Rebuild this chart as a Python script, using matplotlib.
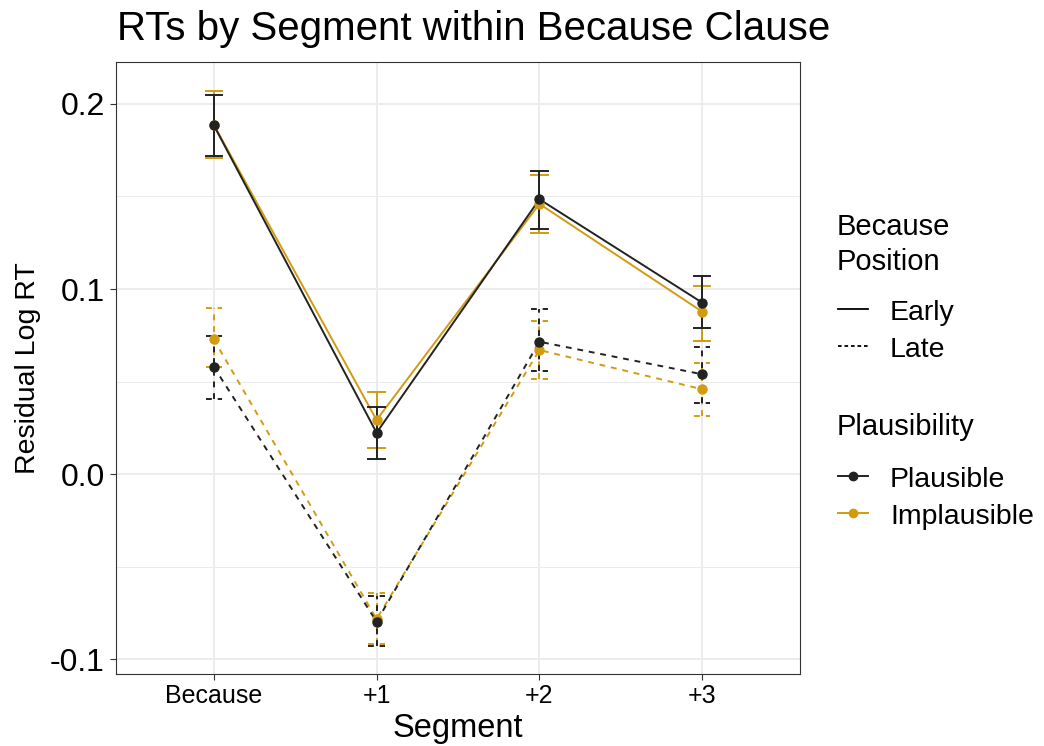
import matplotlib
matplotlib.use("Agg")
import matplotlib.pyplot as plt
from matplotlib.lines import Line2D
import numpy as np

plt.rcParams['font.family'] = ['Liberation Sans', 'DejaVu Sans']

# Segment categories and condition labels
segments = ["Because", "+1", "+2", "+3"]
positions = ["Early", "Late"]
plausibility = ["Plausible", "Implausible"]

# Mean residual log RT per segment, with error bar limits
early_plausible = [0.1886, 0.0223, 0.1485, 0.0926]
early_plausible_lo = [0.1719, 0.0081, 0.1323, 0.0787]
early_plausible_hi = [0.2049, 0.0364, 0.1640, 0.1070]

early_implausible = [0.1889, 0.0292, 0.1460, 0.0877]
early_implausible_lo = [0.1710, 0.0142, 0.1304, 0.0720]
early_implausible_hi = [0.2070, 0.0445, 0.1616, 0.1016]

late_plausible = [0.0580, -0.0798, 0.0715, 0.0539]
late_plausible_lo = [0.0405, -0.0930, 0.0557, 0.0382]
late_plausible_hi = [0.0746, -0.0660, 0.0890, 0.0685]

late_implausible = [0.0728, -0.0784, 0.0670, 0.0458]
late_implausible_lo = [0.0577, -0.0920, 0.0514, 0.0314]
late_implausible_hi = [0.0896, -0.0645, 0.0827, 0.0598]

colors = {"Plausible": "#222222", "Implausible": "#D19C11"}
dash_styles = {"Early": "-", "Late": (0, (3, 3))}

# Implausible drawn first so plausible marks sit on top
series = [
    ("Early", "Implausible", early_implausible, early_implausible_lo, early_implausible_hi),
    ("Late", "Implausible", late_implausible, late_implausible_lo, late_implausible_hi),
    ("Early", "Plausible", early_plausible, early_plausible_lo, early_plausible_hi),
    ("Late", "Plausible", late_plausible, late_plausible_lo, late_plausible_hi),
]

W, H = 1044, 746
fig = plt.figure(figsize=(W / 100, H / 100), dpi=100)
ax = fig.add_axes([116 / W, 1 - 674 / H, (800 - 116) / W, (674 - 62) / H])

x = np.arange(1, len(segments) + 1)
lw = 1.4
cap = 0.05

for pos, pl, m, lo, hi in series:
    ax.plot(x, m, color=colors[pl], lw=lw, linestyle=dash_styles[pos], zorder=3)
for pos, pl, m, lo, hi in series:
    c = colors[pl]
    ls = dash_styles[pos]
    for xi, l, h in zip(x, lo, hi):
        ax.plot([xi, xi], [l, h], color=c, lw=lw, linestyle=ls, zorder=4)
        ax.plot([xi - cap, xi + cap], [l, l], color=c, lw=lw, linestyle=ls, zorder=4)
        ax.plot([xi - cap, xi + cap], [h, h], color=c, lw=lw, linestyle=ls, zorder=4)
for pos, pl, m, lo, hi in series:
    ax.plot(x, m, linestyle="none", marker="o", ms=6.5, color=colors[pl], zorder=5)

ax.set_xlim(0.4, 4.6)
ax.set_ylim(-0.1081, 0.2227)
ax.set_xticks(x)
ax.set_xticklabels(segments, fontsize=18)
yt = [-0.1, 0.0, 0.1, 0.2]
ax.set_yticks(yt)
ax.set_yticklabels(["-0.1", "0.0", "0.1", "0.2"], fontsize=23)
ax.set_yticks([-0.05, 0.05, 0.15], minor=True)
ax.grid(True, which="major", color="#EBEBEB", lw=1.3, zorder=0)
ax.grid(True, which="minor", axis="y", color="#EBEBEB", lw=0.7, zorder=0)
ax.set_axisbelow(True)
for s in ax.spines.values():
    s.set_color("#333333")
    s.set_linewidth(0.8)
ax.tick_params(axis="both", which="major", length=4, width=0.8, color="#333333",
               labelcolor="black")
ax.tick_params(axis="y", which="major", pad=4)
ax.tick_params(axis="x", which="major", pad=3)
ax.tick_params(axis="y", which="minor", length=0)

fig.text(458 / W, 1 - 737 / H, "Segment", fontsize=23.5, ha="center", va="baseline")
fig.text(28 / W, 1 - 368 / H, "Residual Log RT", fontsize=20.5, rotation=90,
         ha="center", va="center")
fig.text(117 / W, 1 - 40 / H, "RTs by Segment within Because Clause", fontsize=29,
         ha="left", va="baseline")

# Legends drawn in pixel coordinates on an overlay axes
lax = fig.add_axes([0, 0, 1, 1])
lax.set_xlim(0, W)
lax.set_ylim(H, 0)
lax.axis("off")

lax.text(837, 235, "Because", fontsize=21, ha="left", va="baseline")
lax.text(837, 270, "Position", fontsize=21, ha="left", va="baseline")
key_styles = {"Early": "-", "Late": (0, (2, 1.6))}
for i, pos in enumerate(positions):
    yy = 309 + i * 37
    lax.add_line(Line2D([838, 868], [yy, yy], color="black", lw=1.3, linestyle=key_styles[pos]))
    lax.text(890, yy + 11, pos, fontsize=20.5, ha="left", va="baseline")

lax.text(837, 435, "Plausibility", fontsize=21, ha="left", va="baseline")
for i, pl in enumerate(plausibility):
    yy = 476 + i * 37
    lax.add_line(Line2D([838, 868], [yy, yy], color=colors[pl], lw=1.4))
    lax.add_line(Line2D([853], [yy], color=colors[pl], marker="o", ms=6, linestyle="none"))
    lax.text(890, yy + 11, pl, fontsize=20.5, ha="left", va="baseline")

fig.savefig("out.png", dpi=100)
